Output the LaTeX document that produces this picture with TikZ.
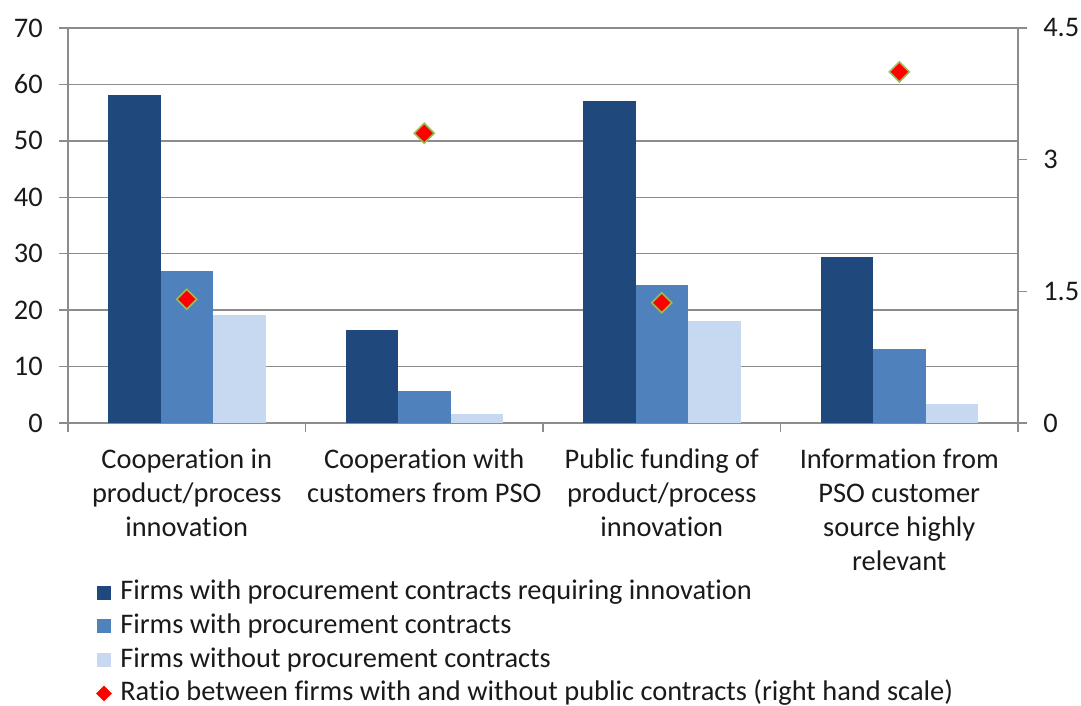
\documentclass[tikz,border=0pt]{standalone}
\usepackage{fontspec}
\setmainfont[Ligatures={NoCommon}]{Carlito}
\usetikzlibrary{shapes.geometric}
\definecolor{cdark}{HTML}{1F497D}
\definecolor{cmid}{HTML}{4F81BD}
\definecolor{clight}{HTML}{C6D9F1}
\definecolor{cgrid}{HTML}{8C8C8C}
\definecolor{cdmb}{HTML}{9BBB59}
\definecolor{ctxt}{HTML}{1A1A1A}
\begin{document}
\begin{tikzpicture}[x=0.75pt,y=-0.75pt,
  lbl/.style={font=\fontsize{21.3}{25.5}\selectfont, text=ctxt, inner sep=0pt},
  gridline/.style={draw=cgrid, line width=1.1pt},
  ratio/.style={diamond, fill=red, draw=cdmb, line width=1.2pt, inner sep=0pt, minimum width=15.5pt, minimum height=15.5pt},
  legsq/.style={inner sep=0pt, minimum size=10.5pt},
  catlbl/.style={lbl, align=center, anchor=north}]
\useasboundingbox (0,0) rectangle (1081,706);
% gridlines
\foreach \v in {10,20,...,70} \draw[gridline] (59,{423-\v*5.643}) -- (1018,{423-\v*5.643});
% axes
\draw[gridline] (68,28) -- (68,432);
\draw[gridline] (59,423) -- (1027,423);
\draw[gridline] (1018,28) -- (1018,432);
\foreach \x in {305.5,543,780.5} \draw[gridline] (\x,423) -- (\x,432);
\foreach \r in {1.5,3,4.5} \draw[gridline] (1018,{423-\r*87.78}) -- (1027,{423-\r*87.78});
% left tick labels
\foreach \v in {0,10,...,70} \node[lbl, anchor=east] (l\v) at (43,{423-\v*5.643}) {\v};
% right tick labels
\node[lbl, anchor=west] (r0) at (1043,423) {0};
\node[lbl, anchor=west] (r15) at (1043,{423-1.5*87.78}) {1.5};
\node[lbl, anchor=west] (r3) at (1043,{423-3*87.78}) {3};
\node[lbl, anchor=west] (r45) at (1043,{423-4.5*87.78}) {4.5};
% bars
\foreach \i/\a/\b/\c in {0/58.1/26.9/19.2, 1/16.5/5.7/1.6, 2/57.0/24.5/18.1, 3/29.4/13.2/3.3} {
  \pgfmathsetmacro{\xs}{108+\i*237.5}
  \fill[cdark] (\xs,423) rectangle ({\xs+52.5},{423-\a*5.643});
  \fill[cmid] ({\xs+52.5},423) rectangle ({\xs+105},{423-\b*5.643});
  \fill[clight] ({\xs+105},423) rectangle ({\xs+157.5},{423-\c*5.643});
}
% ratio markers
\node[ratio] (d1) at (186.75,{423-1.41*87.78}) {};
\node[ratio] (d2) at (424.25,{423-3.30*87.78}) {};
\node[ratio] (d3) at (661.75,{423-1.37*87.78}) {};
\node[ratio] (d4) at (899.25,{423-4.00*87.78}) {};
% category labels
\node[catlbl] (c1) at (186.75,449) {Cooperation in\\product/process\\innovation};
\node[catlbl] (c2) at (424.25,449) {Cooperation with\\customers from PSO};
\node[catlbl] (c3) at (661.75,449) {Public funding of\\product/process\\innovation};
\node[catlbl] (c4) at (899.25,449) {Information from\\PSO customer\\source highly\\relevant};
% legend
\node[legsq, fill=cdark] (k1) at (104,592.5) {};
\node[legsq, fill=cmid] (k2) at (104,626) {};
\node[legsq, fill=clight] (k3) at (104,660) {};
\node[diamond, fill=red, inner sep=0pt, minimum width=12pt, minimum height=12pt] (k4) at (104,693.5) {};
\node[lbl, anchor=west] (t1) at (120,592) {Firms with procurement contracts requiring innovation};
\node[lbl, anchor=west] (t2) at (120,626) {Firms with procurement contracts};
\node[lbl, anchor=west] (t3) at (120,660) {Firms without procurement contracts};
\node[lbl, anchor=west] (t4) at (120,693) {Ratio between firms with and without public contracts (right hand scale)};
\end{tikzpicture}
\end{document}
